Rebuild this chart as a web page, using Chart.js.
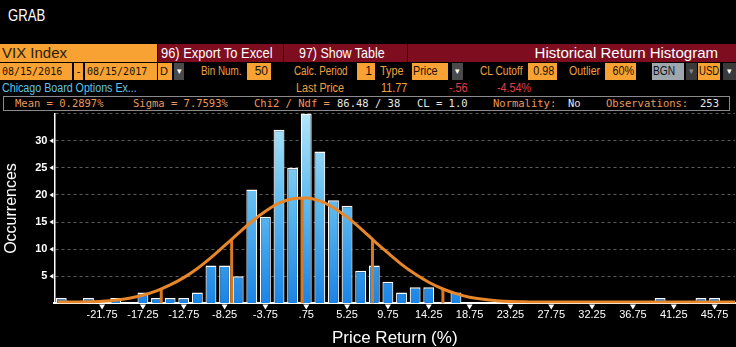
<!DOCTYPE html>
<html>
<head>
<meta charset="utf-8">
<script src="https://cdn.jsdelivr.net/npm/chart.js@4"></script>
<style>
  html, body { margin: 0; padding: 0; background: #000; }
  body { width: 736px; height: 347px; position: relative; overflow: hidden;
         font-family: "Liberation Sans", Arial, sans-serif; }
  .b { position: absolute; box-sizing: border-box; white-space: nowrap; overflow: hidden; }
  .b span { display: inline-block; transform-origin: left center; }
  #wrap { position: absolute; left: 0; top: 100px; width: 736px; height: 249px; }
</style>
</head>
<body>
<div id="hdr"></div>
<div id="wrap"><canvas id="myChart"></canvas></div>
<script>
// histogram bins (center of each 1.5% bin)
var binCenters = [-26.25, -24.75, -23.25, -21.75, -20.25, -18.75, -17.25, -15.75, -14.25, -12.75,
                  -11.25, -9.75, -8.25, -6.75, -5.25, -3.75, -2.25, -0.75, 0.75, 2.25,
                  3.75, 5.25, 6.75, 8.25, 9.75, 11.25, 12.75, 14.25, 15.75, 17.25,
                  18.75, 20.25, 21.75, 23.25, 24.75, 26.25, 27.75, 29.25, 30.75, 32.25,
                  33.75, 35.25, 36.75, 38.25, 39.75, 41.25, 42.75, 44.25, 45.75, 47.25];
var counts = [1, 0, 1, 0, 1, 0, 2, 1, 1, 1,
              2, 7, 7, 5, 21, 16, 32, 25, 35, 28,
              19, 18, 6, 7, 4, 2, 3, 3, 0, 2,
              0, 0, 0, 0, 0, 0, 0, 0, 0, 0,
              0, 0, 0, 0, 1, 0, 0, 1, 1, 0];
// fitted normal curve, read at the bin centers
var curveY = [0.25, 0.25, 0.3, 0.4, 0.6, 0.95, 1.5, 2.3, 3.4, 4.75,
              6.45, 8.45, 10.65, 12.9, 15.1, 17.0, 18.5, 19.3, 19.45, 18.9,
              17.65, 15.9, 13.8, 11.5, 9.3, 7.2, 5.4, 3.9, 2.7, 1.8,
              1.15, 0.75, 0.5, 0.35, 0.3, 0.25, 0.25, 0.25, 0.25, 0.25,
              0.25, 0.25, 0.25, 0.25, 0.25, 0.25, 0.25, 0.25, 0.25, 0.25];
var curveEdgeX = [-26.6, 48];
var curveEdgeY = [0.25, 0.25];
// mean, +-1 sigma, +-2 sigma markers
var markerX = [-15.23, -7.47, 0.29, 8.05, 15.81];
var markerY = [2.64, 11.83, 19.5, 11.83, 2.64];
var tickValues = [-21.75, -17.25, -12.75, -8.25, -3.75, 0.75, 5.25, 9.75, 14.25, 18.75,
                  23.25, 27.75, 32.25, 36.75, 41.25, 45.75];
var tickLabels = ['-21.75', '-17.25', '-12.75', '-8.25', '-3.75', '.75', '5.25', '9.75', '14.25', '18.75',
                  '23.25', '27.75', '32.25', '36.75', '41.25', '45.75'];

var OR = '#f7a233', RED = '#7e0d1f', TXT = '#f0a040', INK = '#1a1000';
var MONO = '"DejaVu Sans Mono", "Liberation Mono", monospace';

function box(x, y, w, h, bg, color, text, opts) {
     opts = opts || {};
     var d = document.createElement('div');
     d.className = 'b';
     d.style.left = x + 'px'; d.style.top = y + 'px';
     if (w) d.style.width = w + 'px';
     d.style.height = h + 'px';
     d.style.lineHeight = h + 'px';
     if (bg) d.style.background = bg;
     d.style.color = color;
     d.style.fontSize = (opts.size || 11) + 'px';
     if (opts.mono) d.style.fontFamily = MONO;
     var pad = opts.pad === undefined ? 2 : opts.pad;
     if (opts.right) { d.style.textAlign = 'right'; d.style.paddingRight = pad + 'px'; }
     else if (opts.center) d.style.textAlign = 'center';
     else d.style.paddingLeft = pad + 'px';
     var s = document.createElement('span');
     s.textContent = text;
     if (opts.sx) {
          s.style.transform = 'scaleX(' + opts.sx + ')';
          if (opts.right) s.style.transformOrigin = 'right center';
     }
     d.appendChild(s);
     document.getElementById('hdr').appendChild(d);
     return d;
}

box(8, 7, 0, 18, null, '#fff', 'GRAB', { size: 16, pad: 0, sx: 0.82 });
// row 1
box(0, 44, 157, 18, OR, '#2b1c05', 'VIX Index', { size: 15, pad: 2 });
box(158, 44, 125, 18, RED, '#fff', '96) Export To Excel', { size: 15, pad: 3, sx: 0.86 });
box(284, 44, 123, 18, RED, '#fff', '97) Show Table', { size: 15, pad: 15, sx: 0.83 });
box(408, 44, 328, 18, RED, '#fff', 'Historical Return Histogram', { size: 15, right: true, pad: 18 });
// row 2
box(0, 63, 72, 17, OR, INK, '08/15/2016', { mono: true, size: 10, pad: 2 });
box(74, 63, 9, 17, OR, INK, '-', { center: true });
box(85, 63, 72, 17, OR, INK, '08/15/2017', { mono: true, size: 10, pad: 2 });
box(158, 63, 14, 17, OR, INK, 'D', { pad: 2 });
box(174, 63, 10, 17, '#4a4a4a', '#fff', '\u25BE', { center: true, size: 9 });
box(201, 63, 0, 17, null, TXT, 'Bin Num.', { pad: 0, size: 12, sx: 0.82 });
box(247, 63, 24, 17, OR, INK, '50', { right: true, pad: 3, size: 12 });
box(294, 63, 0, 17, null, TXT, 'Calc. Period', { pad: 0, size: 12, sx: 0.82 });
box(357, 63, 18, 17, OR, INK, '1', { right: true, pad: 3, size: 12 });
box(380, 63, 0, 17, null, TXT, 'Type', { pad: 0, size: 12, sx: 0.9 });
box(412, 63, 36, 17, OR, INK, 'Price', { pad: 1, size: 12, sx: 0.9 });
box(452, 63, 11, 17, '#4a4a4a', '#fff', '\u25BE', { center: true, size: 9 });
box(480, 63, 0, 17, null, TXT, 'CL Cutoff', { pad: 0, size: 12, sx: 0.85 });
box(528, 63, 29, 17, OR, INK, '0.98', { right: true, pad: 3, size: 12, sx: 0.9 });
box(569, 63, 0, 17, null, TXT, 'Outlier', { pad: 0, size: 12, sx: 0.88 });
box(605, 63, 31, 17, OR, INK, '60%', { right: true, pad: 2, size: 12, sx: 0.9 });
box(652, 63, 32, 17, '#9ea6ae', '#111', 'BGN', { pad: 1, size: 12, sx: 0.85 });
box(686, 63, 11, 17, '#3a3a3a', '#888', '\u25BE', { center: true, size: 9 });
box(698, 63, 22, 17, OR, INK, 'USD', { pad: 1, size: 12, sx: 0.8 });
box(723, 63, 13, 17, '#3a3a3a', '#fff', '\u25BE', { center: true, size: 9 });
// row 3
box(2, 81, 0, 15, null, '#62c4e6', 'Chicago Board Options Ex...', { pad: 0, size: 12, sx: 0.89 });
box(296, 81, 0, 15, null, TXT, 'Last Price', { pad: 0, size: 12, sx: 0.9 });
box(381, 81, 0, 15, null, TXT, '11.77', { pad: 0, size: 12, sx: 0.9 });
box(449, 81, 0, 15, null, '#e0404e', '-.56', { pad: 0, size: 12, sx: 0.9 });
box(497, 81, 0, 15, null, '#e0404e', '-4.54%', { pad: 0, size: 12, sx: 0.9 });
// row 4 (stats)
var st = box(3, 96, 727, 15, null, TXT, '', {});
st.style.border = '1px solid #8a8a8a';
var PEACH = '#e99a5c', LIGHT = '#e6e6e6';
box(15, 96, 0, 15, null, PEACH, 'Mean = 0.2897%', { mono: true, size: 10.5, pad: 0 });
box(133, 96, 0, 15, null, PEACH, 'Sigma = 7.7593%', { mono: true, size: 10.5, pad: 0 });
box(254, 96, 0, 15, null, PEACH, 'Chi2 / Ndf =', { mono: true, size: 10.5, pad: 0 });
box(337, 96, 0, 15, null, LIGHT, '86.48 / 38', { mono: true, size: 10.5, pad: 0 });
box(417, 96, 0, 15, null, LIGHT, 'CL = 1.0', { mono: true, size: 10.5, pad: 0 });
box(493, 96, 0, 15, null, PEACH, 'Normality:', { mono: true, size: 10.5, pad: 0 });
box(568, 96, 0, 15, null, LIGHT, 'No', { mono: true, size: 10.5, pad: 0 });
box(606, 96, 0, 15, null, PEACH, 'Observations:', { mono: true, size: 10.5, pad: 0 });
box(700, 96, 0, 15, null, LIGHT, '253', { mono: true, size: 10.5, pad: 0 });

// small white triangles at the ticks
var tickMarks = {
     id: 'tickMarks',
     afterDraw: function (chart) {
          var ctx = chart.ctx, a = chart.chartArea;
          var sx = chart.scales.x, sy = chart.scales.y;
          ctx.save();
          ctx.fillStyle = '#fff';
          sx.ticks.forEach(function (t) {
               var px = sx.getPixelForValue(t.value);
               ctx.beginPath();
               ctx.moveTo(px - 3, a.bottom + 1);
               ctx.lineTo(px + 3, a.bottom + 1);
               ctx.lineTo(px, a.bottom + 6);
               ctx.fill();
          });
          sy.ticks.forEach(function (t) {
               if (t.value <= 0 || t.value >= 35) return;
               var py = sy.getPixelForValue(t.value);
               ctx.beginPath();
               ctx.moveTo(a.left - 1, py - 2.5);
               ctx.lineTo(a.left - 1, py + 2.5);
               ctx.lineTo(a.left - 5, py);
               ctx.fill();
          });
          ctx.restore();
     }
};

function barFill(c) {
     var a = c.chart.chartArea;
     if (!a) return '#2a8ee8';
     var g = c.chart.ctx.createLinearGradient(0, a.top, 0, a.bottom);
     g.addColorStop(0, '#b4e6f9');
     g.addColorStop(0.45, '#62bdf0');
     g.addColorStop(1, '#1a84e6');
     return g;
}

var barData = [];
for (var i in binCenters) barData.push({ x: binCenters[i], y: counts[i] });
var curveData = [{ x: curveEdgeX[0], y: curveEdgeY[0] }];
for (var i in binCenters) curveData.push({ x: binCenters[i], y: curveY[i] });
curveData.push({ x: curveEdgeX[1], y: curveEdgeY[1] });

var datasets = [{
     type: 'line',
     data: curveData,
     borderColor: '#e8862a',
     borderWidth: 3,
     pointRadius: 0,
     tension: 0.4,
     cubicInterpolationMode: 'monotone',
     order: 0
}];
for (var i in markerX) {
     datasets.push({
          type: 'line',
          data: [{ x: markerX[i], y: 0 }, { x: markerX[i], y: markerY[i] }],
          borderColor: '#d9781f',
          borderWidth: 3,
          pointRadius: 0,
          order: 0
     });
}
datasets.push({
     type: 'bar',
     data: barData,
     backgroundColor: barFill,
     borderColor: '#fff',
     borderWidth: { top: 1.5, left: 1.2, right: 1.2, bottom: 0 },
     borderSkipped: false,
     barPercentage: 0.8,
     categoryPercentage: 1,
     order: 1
});

var FONT = '"Liberation Sans", Arial, sans-serif';

new Chart('myChart', {
     type: 'bar',
     data: { datasets: datasets },
     plugins: [tickMarks],
     options: {
          responsive: true,
          maintainAspectRatio: false,
          animation: false,
          layout: { padding: { top: 4, right: 1, left: 1, bottom: 0 } },
          plugins: { legend: { display: false }, tooltip: { enabled: false } },
          scales: {
               x: {
                    type: 'linear',
                    min: -27, max: 48,
                    offset: false,
                    grid: { display: false, drawTicks: false },
                    border: { color: '#fff', width: 2 },
                    afterBuildTicks: function (s) {
                         s.ticks = tickValues.map(function (v) { return { value: v }; });
                    },
                    ticks: {
                         color: '#fff', font: { family: FONT, size: 11 },
                         padding: 5, autoSkip: false, maxRotation: 0,
                         callback: function (v, i) { return tickLabels[i]; }
                    },
                    title: {
                         display: true, text: 'Price Return (%)', color: '#fff',
                         font: { family: FONT, size: 17 }, padding: { top: 2, bottom: 0 }
                    }
               },
               y: {
                    min: 0, max: 35,
                    grid: {
                         drawTicks: false, lineWidth: 1,
                         color: function (c) { return c.tick.value === 0 ? 'rgba(0,0,0,0)' : '#5c5c5c'; }
                    },
                    border: { color: '#fff', width: 1.5, dash: [3, 3] },
                    ticks: {
                         stepSize: 5, color: '#fff', padding: 7,
                         font: { family: FONT, size: 11, weight: 'bold' },
                         callback: function (v) { return (v > 0 && v < 35) ? v : ''; }
                    },
                    title: {
                         display: true, text: 'Occurrences', color: '#fff',
                         font: { family: FONT, size: 16 }, padding: { top: 1, bottom: 7 }
                    }
               }
          }
     }
});
</script>
</body>
</html>
